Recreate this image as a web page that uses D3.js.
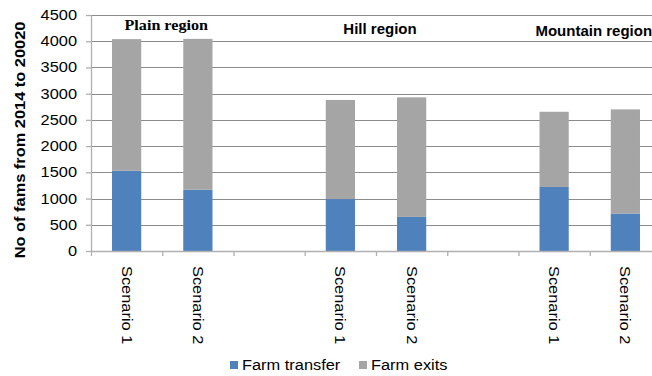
<!DOCTYPE html>
<html>
<head>
<meta charset="utf-8">
<script src="https://cdn.jsdelivr.net/npm/d3@7"></script>
<style>
  html, body { margin: 0; padding: 0; background: #fff; }
  svg { display: block; }
</style>
</head>
<body>
<svg id="chart" width="652" height="376"></svg>
<script>
// Farm transfers and exits per scenario, grouped by region (empty slots separate regions)
const slots       = ["plain-1", "plain-2", "gap-a", "hill-1", "hill-2", "gap-b", "mountain-1", "mountain-2"];
const slotLabels  = ["Scenario 1", "Scenario 2", "", "Scenario 1", "Scenario 2", "", "Scenario 1", "Scenario 2"];
const farmTransfer = [1530, 1170, null, 990, 650, null, 1220, 715];
const farmExits    = [2510, 2875, null, 1890, 2280, null, 1435, 1985];

const regions      = ["Plain region", "Hill region", "Mountain region"];
const regionSlots  = [["plain-1", "plain-2"], ["hill-1", "hill-2"], ["mountain-1", "mountain-2"]];

const seriesNames  = ["Farm transfer", "Farm exits"];
const seriesColors = ["#4f81bd", "#a5a5a5"];

const yTicks = [0, 500, 1000, 1500, 2000, 2500, 3000, 3500, 4000, 4500];
const yTitle = "No  of fams from 2014 to 20020";

const SANS  = "'Liberation Sans', Arial, sans-serif";
const SERIF = "'Liberation Serif', 'Times New Roman', serif";

const svg = d3.select("#chart").style("font-family", SANS);

// Text in this chart is drawn slightly wide along its reading direction
const STRETCH = 1.17;
function widen(sel, k = STRETCH) {
  sel.each(function () {
    const w = this.getComputedTextLength();
    d3.select(this).attr("textLength", w * k).attr("lengthAdjust", "spacingAndGlyphs");
  });
}

const plot = { left: 91, right: 661, top: 15, bottom: 251 };

const x = d3.scaleBand().domain(slots).range([plot.left, plot.right]).padding(0);
const edge = d3.scaleLinear().domain([0, slots.length]).range([plot.left, plot.right]);
const y = d3.scaleLinear().domain([0, 4500]).range([plot.bottom, plot.top]);
const barW = x.bandwidth() * 0.41;

// Horizontal gridlines
svg.append("g")
  .selectAll("line")
  .data(yTicks.filter(d => d > 0))
  .join("line")
  .attr("x1", plot.left).attr("x2", 652)
  .attr("y1", d => Math.round(y(d)) + 0.5).attr("y2", d => Math.round(y(d)) + 0.5)
  .attr("stroke", "#8c8c8c").attr("stroke-width", 1.2);

// Stacked bars
const rows = slots.map((s, i) => ({ slot: s, transfer: farmTransfer[i], exits: farmExits[i] }))
  .filter(r => r.transfer !== null);
const stack = d3.stack().keys(["transfer", "exits"]);
const layers = stack(rows);

svg.append("g")
  .selectAll("g")
  .data(layers)
  .join("g")
  .attr("fill", (d, i) => seriesColors[i])
  .selectAll("rect")
  .data(d => d)
  .join("rect")
  .attr("x", d => x(d.data.slot) + (x.bandwidth() - barW) / 2)
  .attr("width", barW)
  .attr("y", d => y(d[1]))
  .attr("height", d => y(d[0]) - y(d[1]));

// Y axis
const yAxis = svg.append("g")
  .attr("transform", `translate(${plot.left},0)`)
  .call(d3.axisLeft(y).tickValues(yTicks).tickFormat(d3.format("d"))
    .tickSize(5).tickPadding(9).tickSizeOuter(0));
yAxis.select(".domain").attr("stroke", "#b0b0b0").attr("stroke-width", 1.3);
yAxis.selectAll(".tick line").attr("stroke", "#b0b0b0").attr("stroke-width", 1.3);
yAxis.selectAll(".tick text")
  .style("font-family", SANS).style("font-size", "14px").attr("fill", "#000")
  .call(widen);

// X axis: tick marks on category boundaries
const xAxis = svg.append("g")
  .attr("transform", `translate(0,${plot.bottom})`)
  .call(d3.axisBottom(edge).tickValues(d3.range(0, slots.length + 1)).tickSize(5).tickFormat("").tickSizeOuter(0));
xAxis.select(".domain").attr("stroke", "#b0b0b0").attr("stroke-width", 1.3);
xAxis.selectAll(".tick line").attr("stroke", "#b0b0b0").attr("stroke-width", 1.3);

// Rotated category labels
svg.append("g")
  .selectAll("text")
  .data(slots.map((s, i) => ({ slot: s, label: slotLabels[i] })).filter(d => d.label))
  .join("text")
  .attr("transform", d => `translate(${x(d.slot) + x.bandwidth() / 2},266) rotate(90)`)
  .attr("dominant-baseline", "central")
  .style("font-size", "14px")
  .text(d => d.label)
  .call(widen);

// Y axis title
svg.append("text")
  .attr("transform", "translate(25,140) rotate(-90)")
  .attr("text-anchor", "middle")
  .style("font-size", "14px").style("font-weight", "bold")
  .text(yTitle)
  .call(widen);

// Region labels above each scenario pair
const regionStyle = [
  { family: SERIF, size: 15.5, baseline: 30, k: 1.04 },
  { family: SANS, size: 15, baseline: 34, k: 1 },
  { family: SANS, size: 15, baseline: 36, k: 1 }
];
svg.append("g")
  .selectAll("text")
  .data(regions.map((r, i) => ({ name: r, pair: regionSlots[i], style: regionStyle[i] })))
  .join("text")
  .attr("x", d => (x(d.pair[0]) + x(d.pair[1]) + x.bandwidth()) / 2 + 4)
  .attr("y", d => d.style.baseline)
  .attr("text-anchor", "middle")
  .style("font-family", d => d.style.family)
  .style("font-size", d => d.style.size + "px")
  .style("font-weight", "bold")
  .text(d => d.name)
  .each(function (d) { widen(d3.select(this), d.style.k); });

// Legend
const legend = svg.append("g").attr("transform", "translate(230,370)");
const legendX = [0, 129];
const item = legend.selectAll("g")
  .data(seriesNames.map((n, i) => ({ name: n, color: seriesColors[i], dx: legendX[i] })))
  .join("g")
  .attr("transform", d => `translate(${d.dx},0)`);
item.append("rect")
  .attr("x", 0).attr("y", -9).attr("width", 8).attr("height", 8)
  .attr("fill", d => d.color);
item.append("text")
  .attr("x", 12).attr("y", 0)
  .style("font-size", "14px")
  .text(d => d.name)
  .call(widen);
</script>
</body>
</html>
